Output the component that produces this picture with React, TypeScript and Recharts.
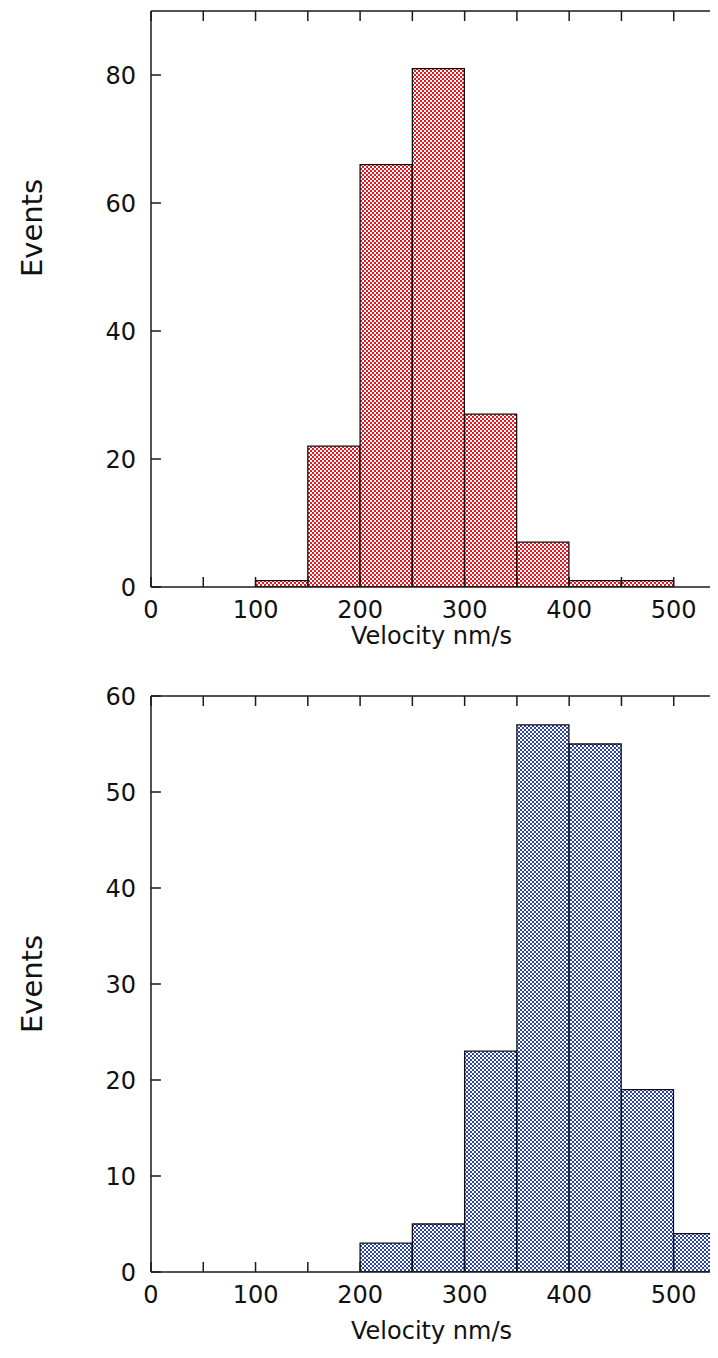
import { Bar, BarChart, Label, XAxis, YAxis } from "recharts";

// histogram bins, 50 nm/s wide, labelled by their lower edge
const binStarts = [0, 50, 100, 150, 200, 250, 300, 350, 400, 450, 500];
const redCounts = [0, 0, 1, 22, 66, 81, 27, 7, 1, 1, 0];
const blueCounts = [0, 0, 0, 0, 3, 5, 23, 57, 55, 19, 4];

const xTicks = [0, 50, 100, 150, 200, 250, 300, 350, 400, 450, 500];
const redYTicks = [0, 20, 40, 60, 80];
const blueYTicks = [0, 10, 20, 30, 40, 50, 60];

const FONT = "'DejaVu Sans', Verdana, sans-serif";
const AXIS = "#1a1a1a";

const tickStyle = { fontFamily: FONT, fontSize: 24, fill: "#111" };
const noLabel = () => "";

type HistProps = {
  counts: number[];
  color: string;
  id: string;
  yMax: number;
  yTicks: number[];
  height: number;
  topPad: number;
  titleDy: number;
  eventsShift: number;
};

const Histogram = ({ counts, color, id, yMax, yTicks, height, topPad, titleDy, eventsShift }: HistProps) => {
  const data = binStarts.map((b, i) => ({ bin: b, count: counts[i] }));

  return (
    <BarChart
      width={720}
      height={height}
      data={data}
      barCategoryGap={0}
      barGap={0}
      margin={{ top: 0, right: 0, bottom: 0, left: 0 }}
    >
      <defs>
        <pattern id={id} width={4} height={4} patternUnits="userSpaceOnUse">
          <rect width={4} height={4} fill="#fff" />
          <rect width={2} height={2} fill={color} />
          <rect x={2} y={2} width={2} height={2} fill={color} />
        </pattern>
      </defs>

      <XAxis xAxisId="bins" dataKey="bin" hide height={0} />

      <XAxis
        xAxisId="num"
        dataKey="bin"
        type="number"
        domain={[0, 550]}
        allowDataOverflow
        ticks={xTicks}
        interval={0}
        height={height - 579 - topPad + 3}
        tickSize={-10}
        tickMargin={24}
        tickFormatter={(v: number) => (v % 100 === 0 ? String(v) : "")}
        tick={tickStyle}
        stroke={AXIS}
        strokeWidth={1.5}
      >
        <Label
          content={({ viewBox }: any) => (
            <text
              x={viewBox.x + viewBox.width / 2 - 7}
              y={viewBox.y + titleDy}
              textAnchor="middle"
              fontFamily={FONT}
              fontSize={24}
              fill="#111"
            >
              Velocity nm/s
            </text>
          )}
        />
      </XAxis>

      <XAxis
        xAxisId="top"
        dataKey="bin"
        orientation="top"
        type="number"
        domain={[0, 550]}
        allowDataOverflow
        ticks={xTicks}
        interval={0}
        height={topPad}
        tickSize={-10}
        tickFormatter={noLabel}
        stroke={AXIS}
        strokeWidth={1.5}
      />

      <YAxis
        type="number"
        domain={[0, yMax]}
        allowDataOverflow
        ticks={yTicks}
        interval={0}
        width={143}
        tickSize={-10}
        tickMargin={25}
        tick={tickStyle}
        stroke={AXIS}
        strokeWidth={1.5}
      >
        <Label
          content={({ viewBox }: any) => {
            const x = viewBox.x + 34;
            const y = viewBox.y + viewBox.height / 2 + eventsShift;
            return (
              <text
                x={x}
                y={y}
                transform={`rotate(-90, ${x}, ${y})`}
                textAnchor="middle"
                fontFamily={FONT}
                fontSize={29}
                fill="#111"
              >
                Events
              </text>
            );
          }}
        />
      </YAxis>

      <YAxis
        yAxisId="right"
        dataKey="count"
        orientation="right"
        type="number"
        domain={[0, yMax]}
        allowDataOverflow
        ticks={yTicks}
        interval={0}
        width={2}
        tickSize={-10}
        tickFormatter={noLabel}
        stroke={AXIS}
        strokeWidth={1.5}
      />

      <Bar
        xAxisId="bins"
        dataKey="count"
        fill={`url(#${id})`}
        stroke="#111"
        strokeWidth={1.3}
        isAnimationActive={false}
      />
    </BarChart>
  );
};

export default function App() {
  return (
    <div style={{ width: 710, overflow: "hidden", background: "#fff" }}>
      <Histogram
        counts={redCounts}
        color="#e8141e"
        id="redCheck"
        yMax={90}
        yTicks={redYTicks}
        height={641}
        topPad={3}
        titleDy={57}
        eventsShift={-71}
      />
      <Histogram
        counts={blueCounts}
        color="#2b44a8"
        id="blueCheck"
        yMax={60}
        yTicks={blueYTicks}
        height={700}
        topPad={47}
        titleDy={67}
        eventsShift={0}
      />
    </div>
  );
}
